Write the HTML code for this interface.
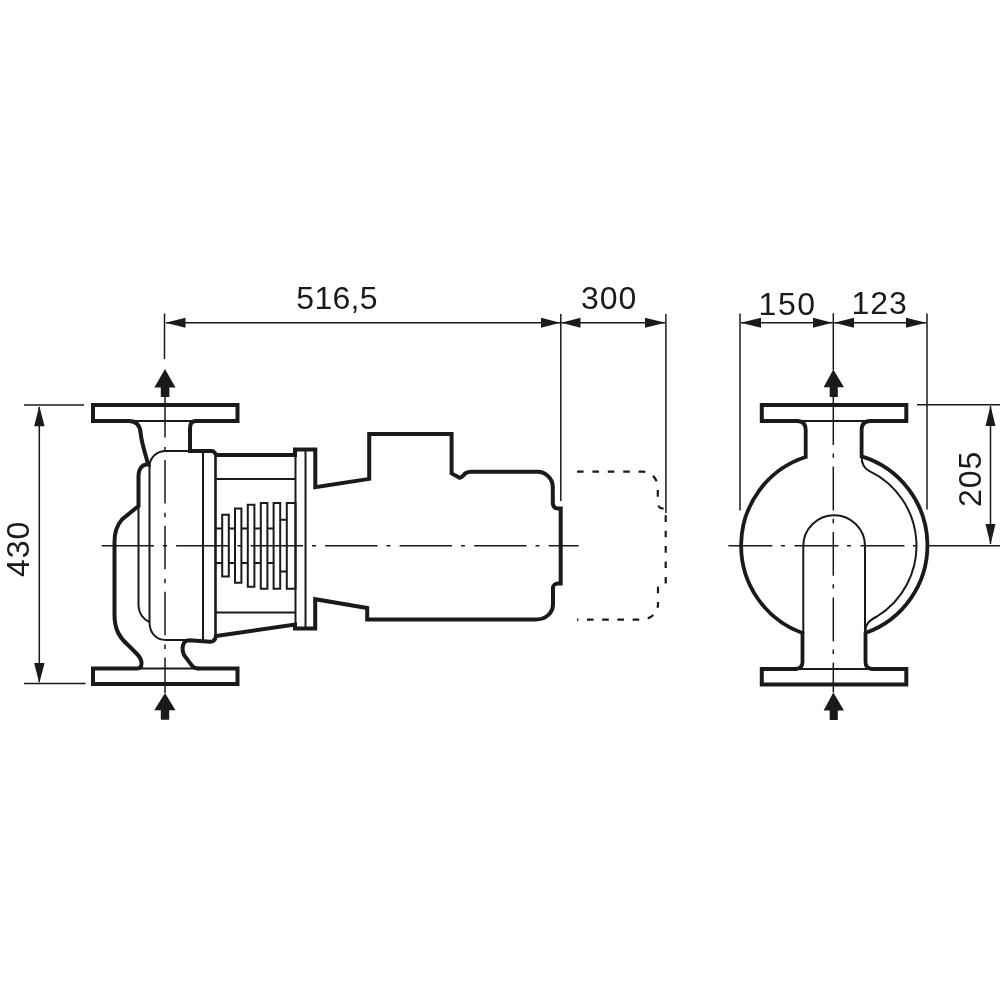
<!DOCTYPE html>
<html><head><meta charset="utf-8">
<style>
html,body{margin:0;padding:0;background:#fff;width:1000px;height:1000px;overflow:hidden}
svg{display:block;will-change:transform}
text{font-family:"Liberation Sans",sans-serif;fill:#1d191a}
</style></head>
<body>
<svg width="1000" height="1000" viewBox="0 0 1000 1000">
<rect width="1000" height="1000" fill="#fff"/>
<g fill="none" stroke="#1d191a" stroke-linejoin="miter" stroke-linecap="butt">

<!-- ================= LEFT VIEW ================= -->
<!-- dimension / extension lines -->
<g stroke-width="1.5">
  <path d="M164.5 313.5V359"/>
  <path d="M560.8 314V501"/>
  <path d="M665.9 314V513"/>
  <path d="M166 322.8H665"/>
  <!-- 430 -->
  <path d="M24 405.1H84"/>
  <path d="M24 683.6H85.6"/>
  <path d="M39.3 407V682"/>
</g>
<!-- centre lines -->
<g stroke-width="1.5">
  <path d="M165 394.1V693" stroke-dasharray="43.5 9.4 4.5 8.47"/>
  <path d="M101.6 545.8H578.7" stroke-dasharray="52.4 9 4 9.1"/>
</g>

<!-- flanges -->
<g stroke-width="4">
  <path d="M129 421H93V405H237.5V421H196"/>
  <path d="M137 668.5H93V684H237.5V668.5H198"/>
</g>
<g stroke-width="2">
  <path d="M129 421H196"/>
  <path d="M137 668.5H198"/>
</g>

<!-- housing outer contour -->
<g stroke-width="4" stroke-linejoin="miter" stroke-miterlimit="3">
  <!-- left neck + housing -->
  <path d="M93 421H129C136.5 421 140 425.5 140.6 433C141.6 443 145 453 148.3 464.5C142.5 464 138.5 468 138.5 477V506L122 519.5C117 525 114.5 532 114.5 542V615C114.5 630 120 638 128 645L137 654C143 660 143 668.5 137 668.5"/>
  <!-- right neck top -->
  <path d="M196 421C190 421 190 426 190 430V451H212C215 451 215 455 217 455H295V449.6H315.3V487.2L369.2 478.9V434H451.6V473.4L459 477.5C462 478.5 463 475 466 473C467.5 472 469 471.7 471 471.7H537.5C546 471.7 552.8 479 552.8 487V502C552.8 506 554.5 508.5 558 508.5H560.7V583.6H557.8C555 583.6 553 585.5 553 588V604C553 613 546 619.5 535.4 619.5H367.2V608L315.2 599.2V628.4H295V624.5L216 636C215.3 640 213.5 641.8 210 641.8L189 640.3C183 640.3 181 648 184 655L191.5 665C193 667.5 195 668.5 199 668.5"/>
  <!-- lantern left -->
  <path d="M215.5 455V636" stroke-width="2.6"/>
</g>

<!-- cover thin -->
<g stroke-width="2">
  <path d="M190 451H166C156 451 149.5 458 149.5 467V622C149.5 633 156 640 166 640H190"/>
  <path d="M138.5 506V606C139 614 143 619 149.5 622"/>
  <path d="M203 452V640"/>
  <path d="M295.5 450V628"/>
  <path d="M305.5 450V628"/>
  <path d="M216 479H295"/>
  <path d="M216 612.6H295"/>
  <!-- fins -->
  <path d="M222.2 514.7H228.8V576.5H222.2Z"/>
  <path d="M235 508.6H241.4V582.8H235Z"/>
  <path d="M247.8 504.8H254.4V586.7H247.8Z"/>
  <path d="M260.8 503H267.4V588.8H260.8Z"/>
  <path d="M273.6 503H280.2V588.8H273.6Z"/>
  <path d="M286.8 503H295.5V588.8H286.8Z"/>
  <path d="M216 528.6H222.2M228.8 528.6H235M241.4 528.6H247.8M254.4 528.6H260.8M267.4 528.6H273.6M280.2 519.8H286.8"/>
  <path d="M216 563H222.2M228.8 563H235M241.4 563H247.8M254.4 563H260.8M267.4 563H273.6M280.2 571.4H286.8"/>
</g>

<!-- dashed alternate motor -->
<path stroke-width="2.2" stroke-dasharray="6.6 8.8" d="M577 471.6H642.5C651 471.6 657.8 479 657.8 487V502C657.8 506 659.5 508.5 663 508.5H665.7V583.6H662.8C660 583.6 658 585.5 658 588V604"/>
<path stroke-width="2.2" stroke-dasharray="6.6 8.6" stroke-dashoffset="5.2" d="M577 619.6H640.4C651 619.6 658 613 658 604"/>

<!-- ================= RIGHT VIEW ================= -->
<g stroke-width="1.5">
  <path d="M740 313.5V510.4"/>
  <path d="M833.3 313.2V370"/>
  <path d="M927 313.5V509.6"/>
  <path d="M741 322.7H926"/>
  <path d="M917 404.7H1000"/>
  <path d="M990.5 406V544"/>
  <path d="M728.4 545.7H928.7" stroke-dasharray="44 8.5 4 9.55"/>
  <path d="M928.7 545.7H1000"/>
  <path d="M833.3 396V401.2"/><path d="M833.3 401.2V692.5" stroke-dasharray="43.8 8.4 4.4 8.8"/>
</g>
<g stroke-width="4">
  <path d="M797 421H761.8V405H906.3V421H870"/>
  <path d="M797 669H761.8V684.6H906.3V669H871"/>
</g>
<g stroke-width="2">
  <path d="M797 421H871"/>
  <path d="M797 669H871"/>
</g>
<g stroke-width="3.8" stroke-linejoin="miter" stroke-miterlimit="4">
  <!-- left neck + circle -->
  <path d="M797 421C803 421 805.7 424 805.7 430V457A93 93 0 0 0 802.5 633V662C802.5 667 800 669 795 669"/>
  <path d="M870.5 421C864.5 421 861.6 424 861.6 430V456.4A93 93 0 0 1 865.5 633V662C865.5 667 868 669 873 669"/>
</g>
<g stroke-width="2">
  <!-- inner thin arc -->
  <path d="M861.6 456.4C861.6 464 864 468 869 470.8A83 83 0 0 1 877 616.5C869 620.5 865.5 624 865.5 631"/>
  <!-- U -->
  <path d="M803.3 633V546A30.85 30.85 0 0 1 865 546V633"/>
</g>
</g>

<!-- arrows (filled) -->
<g fill="#1d191a" stroke="none">
  <!-- flow arrows -->
  <path d="M165 369L175.5 387.4H169.4V397H160.8V387.4H154.3Z"/>
  <path d="M165 693L175.5 710.2H169.2V719.7H160.8V710.2H154.3Z"/>
  <path d="M833.3 369.5L844 387.3H837.8V396.9H829.7V387.3H823.6Z"/>
  <path d="M833.3 692.5L844 710.5H837.8V720H829.7V710.5H823.6Z"/>
  <!-- dimension arrows -->
  <path d="M165.5 322.8L185.5 317.8V327.8Z"/>
  <path d="M560.3 322.8L541 317.8V327.8Z"/>
  <path d="M561.3 322.8L580.5 317.8V327.8Z"/>
  <path d="M665.4 322.8L645 317.8V327.8Z"/>
  <path d="M740.7 322.7L761 317.8V327.8Z"/>
  <path d="M832.5 322.7L813 317.8V327.8Z"/>
  <path d="M834.2 322.7L854 317.8V327.8Z"/>
  <path d="M926.3 322.7L906 317.8V327.8Z"/>
  <path d="M39.3 406L44.6 426.3H34.1Z"/>
  <path d="M39.3 683L44.6 663H34.1Z"/>
  <path d="M990.5 405.5L995.5 426H985.5Z"/>
  <path d="M990.5 544.5L995.5 524H985.5Z"/>
</g>

<!-- texts -->
<g font-size="32" letter-spacing="1">
  <text x="296.3" y="309.4" letter-spacing="0.3">516,5</text>
  <text x="581" y="309.2">300</text>
  <text x="758.5" y="314.8" letter-spacing="1.6">150</text>
  <text x="851.5" y="314.2">123</text>
  <text transform="translate(29.2 577) rotate(-90)">430</text>
  <text transform="translate(981 507) rotate(-90)">205</text>
</g>
</svg>
</body></html>
